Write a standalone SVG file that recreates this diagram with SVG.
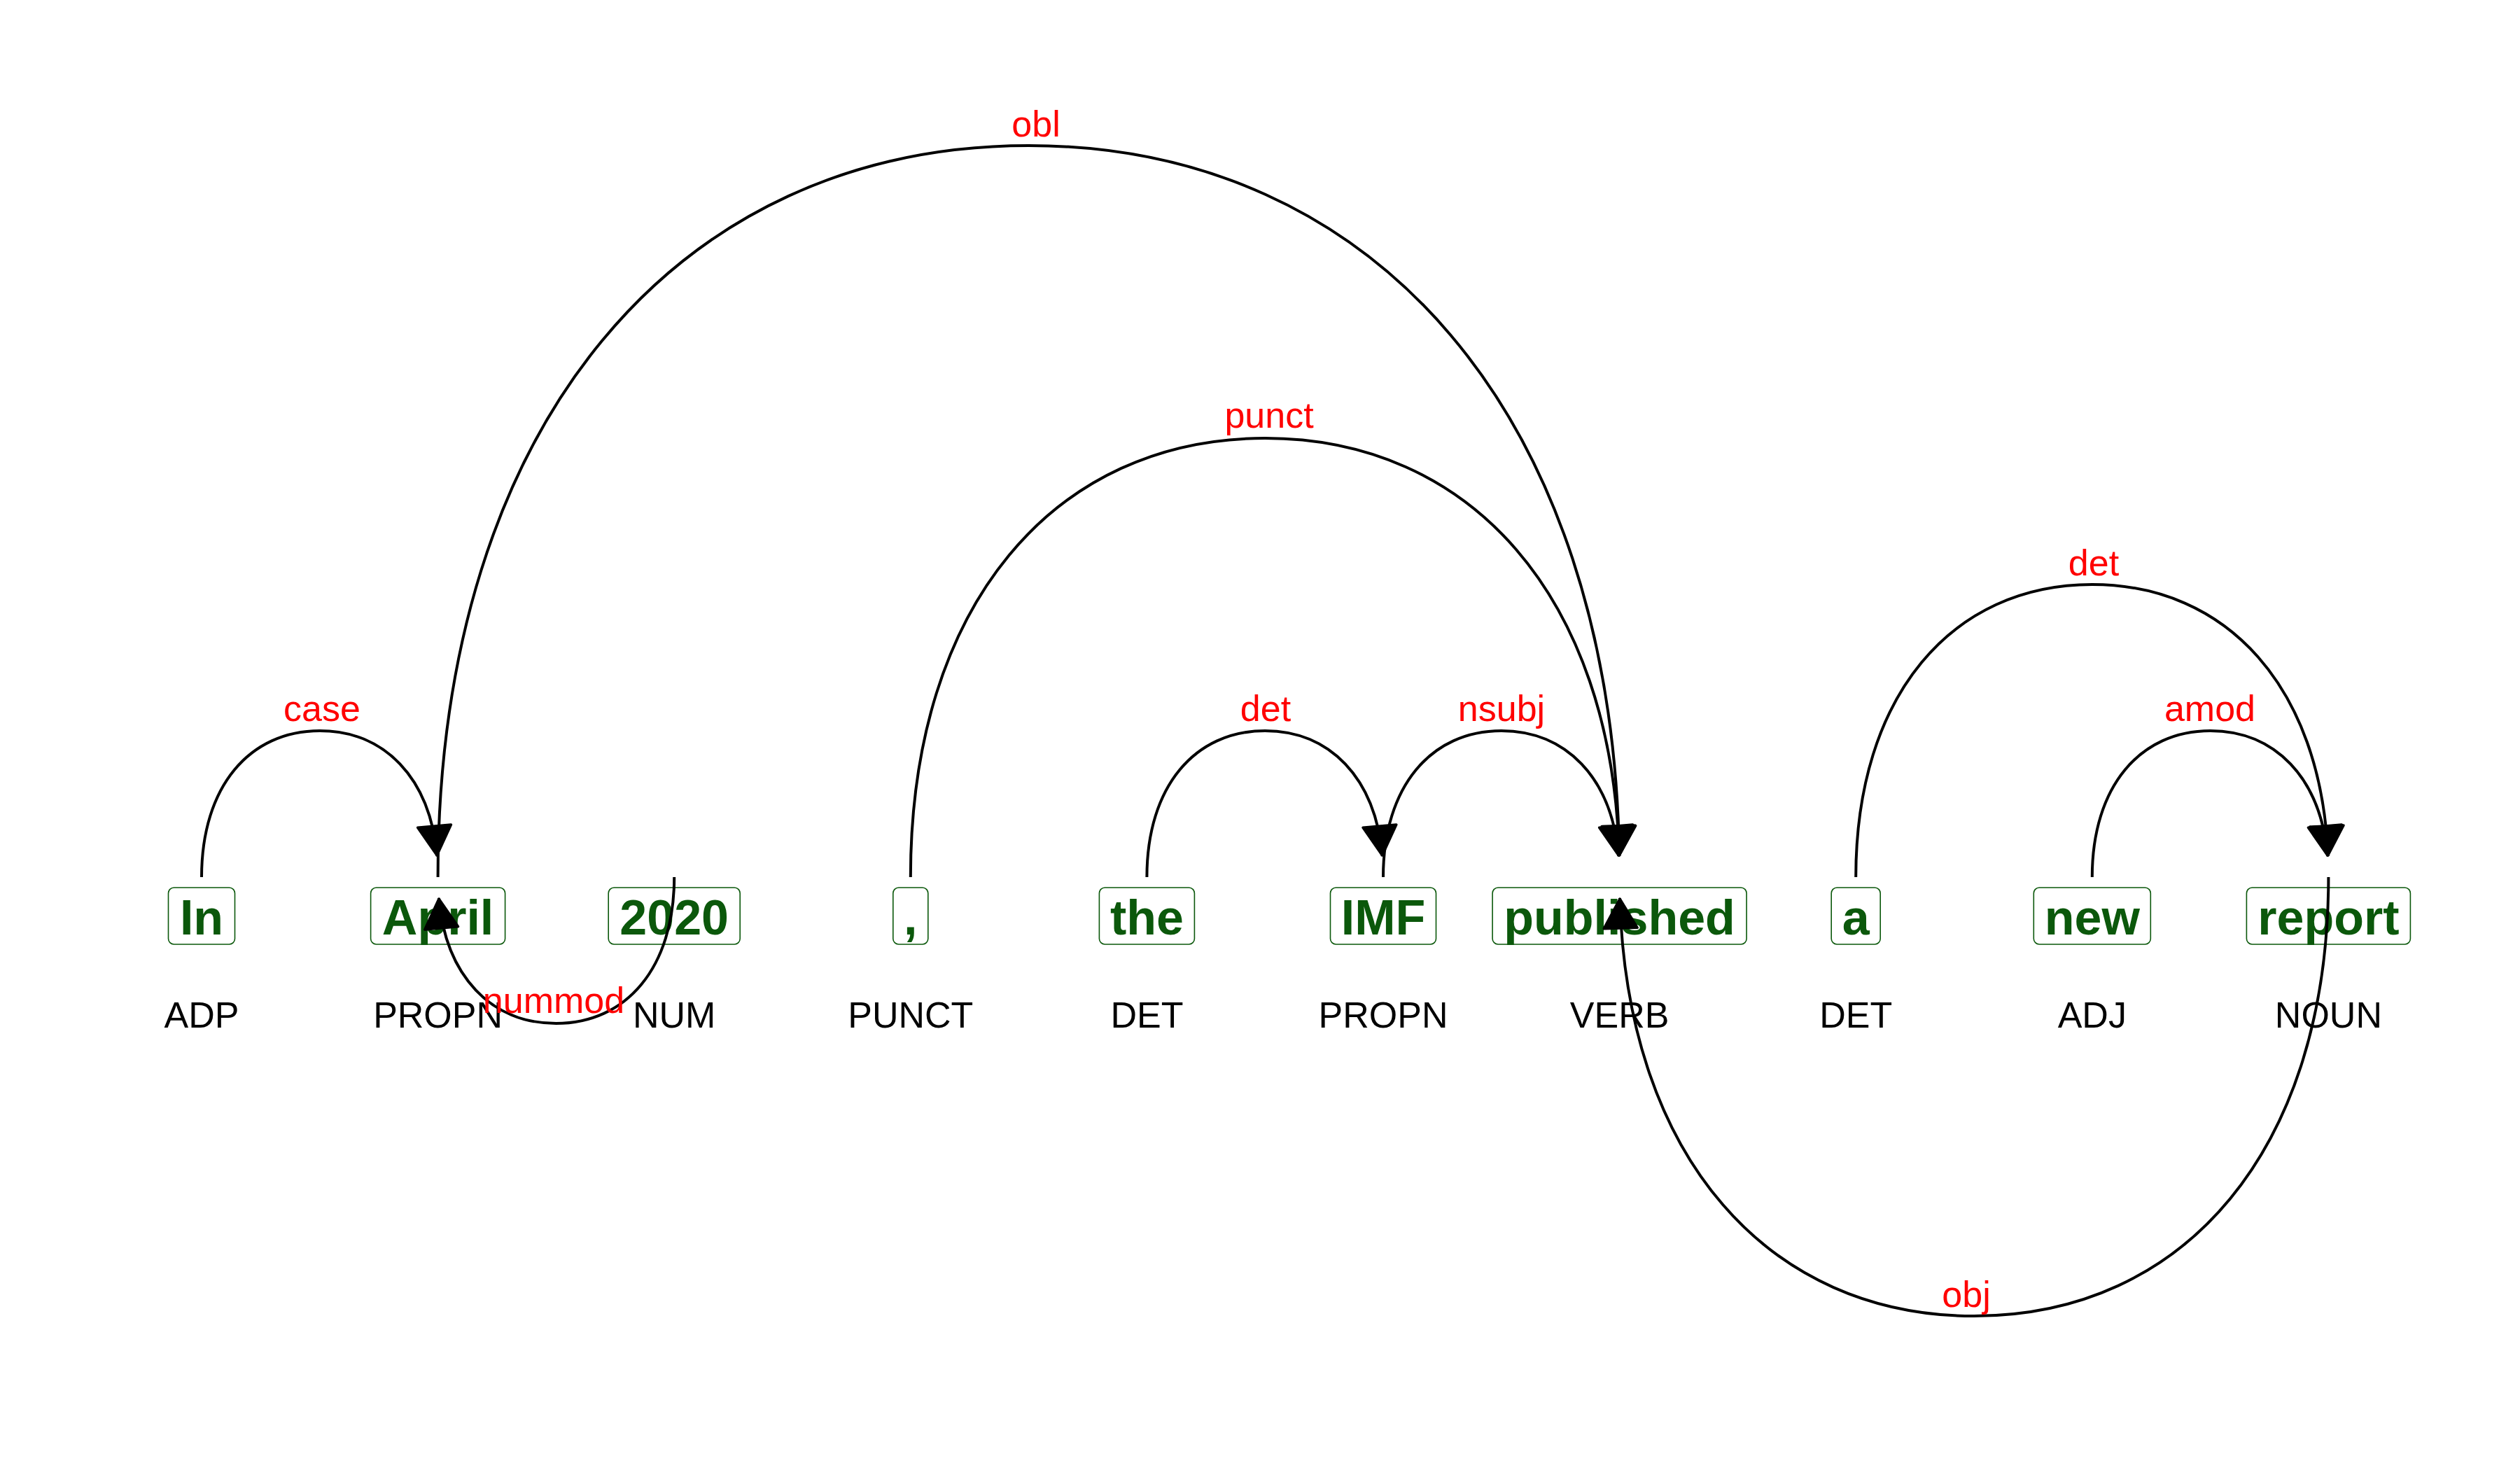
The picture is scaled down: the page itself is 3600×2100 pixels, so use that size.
<svg xmlns="http://www.w3.org/2000/svg" width="3600" height="2100" viewBox="0 0 3600 2100">
<defs>
<style>
.box{fill:#ffffff;stroke:#0b580b;stroke-width:1.6}
.word{font-family:"Liberation Sans",Arial,sans-serif;font-weight:bold;font-size:70px;fill:#0b580b;text-anchor:middle}
.pos{font-family:"Liberation Sans",Arial,sans-serif;font-size:52px;fill:#000000;text-anchor:middle}
.edge{fill:none;stroke:#000000;stroke-width:4;marker-end:url(#arr)}
.elab{font-family:"Liberation Sans",Arial,sans-serif;font-size:52px;fill:#ff0000;text-anchor:middle}
</style>
<marker id="arr" markerUnits="userSpaceOnUse" orient="auto" refX="0" refY="0" markerWidth="60" markerHeight="60" viewBox="-50 -30 60 60" overflow="visible">
<path d="M-1,0 L-43,-24 L-43,24 Z" fill="#000000" stroke="#000000" stroke-width="3.5" stroke-linejoin="round"/>
</marker>
</defs>
<rect width="3600" height="2100" fill="#ffffff"/>

<g id="node-In">
<rect class="box" x="240.5" y="1268" width="95" height="81" rx="8"/>
<text class="word" x="288" y="1335">In</text>
<text class="pos" x="288" y="1468">ADP</text>
</g>
<g id="node-April">
<rect class="box" x="529.6" y="1268" width="192" height="81" rx="8"/>
<text class="word" x="625.6" y="1335">April</text>
<text class="pos" x="625.6" y="1468">PROPN</text>
</g>
<g id="node-2020">
<rect class="box" x="869.2" y="1268" width="188" height="81" rx="8"/>
<text class="word" x="963.2" y="1335">2020</text>
<text class="pos" x="963.2" y="1468">NUM</text>
</g>
<g id="node-comma">
<rect class="box" x="1275.8" y="1268" width="50" height="81" rx="8"/>
<text class="word" x="1300.8" y="1335">,</text>
<text class="pos" x="1300.8" y="1468">PUNCT</text>
</g>
<g id="node-the">
<rect class="box" x="1570.4" y="1268" width="136" height="81" rx="8"/>
<text class="word" x="1638.4" y="1335">the</text>
<text class="pos" x="1638.4" y="1468">DET</text>
</g>
<g id="node-IMF">
<rect class="box" x="1900.5" y="1268" width="151" height="81" rx="8"/>
<text class="word" x="1976" y="1335">IMF</text>
<text class="pos" x="1976" y="1468">PROPN</text>
</g>
<g id="node-published">
<rect class="box" x="2132.1" y="1268" width="363" height="81" rx="8"/>
<text class="word" x="2313.6" y="1335">published</text>
<text class="pos" x="2313.6" y="1468">VERB</text>
</g>
<g id="node-a">
<rect class="box" x="2616.2" y="1268" width="70" height="81" rx="8"/>
<text class="word" x="2651.2" y="1335">a</text>
<text class="pos" x="2651.2" y="1468">DET</text>
</g>
<g id="node-new">
<rect class="box" x="2905.3" y="1268" width="167" height="81" rx="8"/>
<text class="word" x="2988.8" y="1335">new</text>
<text class="pos" x="2988.8" y="1468">ADJ</text>
</g>
<g id="node-report">
<rect class="box" x="3209.4" y="1268" width="234" height="81" rx="8"/>
<text class="word" x="3326.4" y="1335">report</text>
<text class="pos" x="3326.4" y="1468">NOUN</text>
</g>

<g id="connectors">
<path id="e-case" class="edge" d="M288,1253 C288,1123 356.8,1044 456.8,1044 C548.85,1044 614.46,1110.94 624.31,1222.97"/>
<path id="e-obl" class="edge" d="M625.6,1253 C625.6,603 969.6,208 1469.6,208 C1961.86,208 2302.91,590.87 2313.35,1223"/>
<path id="e-nummod" class="edge" d="M963.2,1253 C963.2,1383 894.4,1462 794.4,1462 C702.35,1462 636.74,1395.06 626.89,1283.03"/>
<path id="e-punct" class="edge" d="M1300.8,1253 C1300.8,863 1507.2,626 1807.2,626 C2099.43,626 2302.85,850.88 2313.19,1223.01"/>
<path id="e-det1" class="edge" d="M1638.4,1253 C1638.4,1123 1707.2,1044 1807.2,1044 C1899.25,1044 1964.86,1110.94 1974.71,1222.97"/>
<path id="e-nsubj" class="edge" d="M1976,1253 C1976,1123 2044.8,1044 2144.8,1044 C2236.85,1044 2302.46,1110.94 2312.31,1222.97"/>
<path id="e-det2" class="edge" d="M2651.2,1253 C2651.2,993 2788.8,835 2988.8,835 C3181,835 3315.57,980.92 3325.78,1223.05"/>
<path id="e-amod" class="edge" d="M2988.8,1253 C2988.8,1123 3057.6,1044 3157.6,1044 C3249.65,1044 3315.26,1110.94 3325.11,1222.97"/>
<path id="e-obj" class="edge" d="M3326.4,1253 C3326.4,1643 3120,1880 2820,1880 C2527.77,1880 2324.35,1655.12 2314.01,1283.01"/>
<text class="elab" x="460" y="1030">case</text>
<text class="elab" x="1480" y="195">obl</text>
<text class="elab" x="791" y="1447">nummod</text>
<text class="elab" x="1813" y="611">punct</text>
<text class="elab" x="1808" y="1030">det</text>
<text class="elab" x="2145" y="1030">nsubj</text>
<text class="elab" x="2991" y="822">det</text>
<text class="elab" x="3157" y="1030">amod</text>
<text class="elab" x="2809" y="1867">obj</text>
</g>
</svg>
